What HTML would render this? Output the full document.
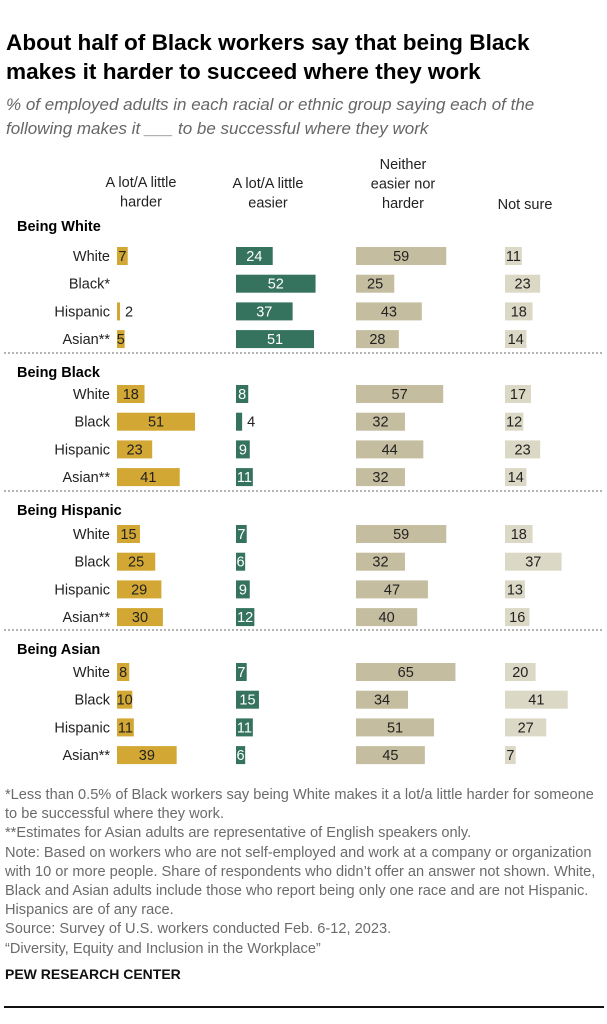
<!DOCTYPE html>
<html><head><meta charset="utf-8"><style>
body{margin:0;width:607px;height:1024px;background:#fff;font-family:"Liberation Sans",sans-serif;position:relative;overflow:hidden}
.t{position:absolute;white-space:nowrap}
</style></head><body>
<div class="t" style="left:6px;top:28px;font-size:22.6px;font-weight:bold;line-height:29px;color:#000">About half of Black workers say that being Black<br>makes it harder to succeed where they work</div>
<div class="t" style="left:6px;top:93px;font-size:17px;font-style:italic;line-height:24px;color:#666">% of employed adults in each racial or ethnic group saying each of the<br>following makes it ___ to be successful where they work</div>
<svg id="c" width="607" height="1024" style="position:absolute;left:0;top:0"></svg>
<div class="t" style="left:5px;top:786px;font-size:14.6px;line-height:19.2px;color:#6b6b6b">*Less than 0.5% of Black workers say being White makes it a lot/a little harder for someone<br>to be successful where they work.<br>**Estimates for Asian adults are representative of English speakers only.<br>Note: Based on workers who are not self-employed and work at a company or organization<br>with 10 or more people. Share of respondents who didn’t offer an answer not shown. White,<br>Black and Asian adults include those who report being only one race and are not Hispanic.<br>Hispanics are of any race.<br>Source: Survey of U.S. workers conducted Feb. 6-12, 2023.<br>“Diversity, Equity and Inclusion in the Workplace”</div>
<div class="t" style="left:5px;top:966px;font-size:14px;font-weight:bold;color:#111">PEW RESEARCH CENTER</div>
<div style="position:absolute;left:4px;top:1006px;width:600px;height:2px;background:#111"></div>
<script>
const sections=["Being White","Being Black","Being Hispanic","Being Asian"];
const groups=[["White","Black*","Hispanic","Asian**"],["White","Black","Hispanic","Asian**"],["White","Black","Hispanic","Asian**"],["White","Black","Hispanic","Asian**"]];
const harder=[[7,null,2,5],[18,51,23,41],[15,25,29,30],[8,10,11,39]];
const easier=[[24,52,37,51],[8,4,9,11],[7,6,9,12],[7,15,11,6]];
const neither=[[59,25,43,28],[57,32,44,32],[59,32,47,40],[65,34,51,45]];
const notsure=[[11,23,18,14],[17,12,23,14],[18,37,13,16],[20,41,27,7]];
const headers=[["A lot/A little","harder"],["A lot/A little","easier"],["Neither","easier nor","harder"],["Not sure"]];
const series=[harder,easier,neither,notsure];
const cols=[{x:117,c:"#d2a733",tc:"#222"},{x:236,c:"#35735f",tc:"#fff"},{x:356,c:"#c5bd9f",tc:"#222"},{x:505,c:"#dcd8c6",tc:"#222"}];
const S=1.53,NS="http://www.w3.org/2000/svg",svg=document.getElementById("c");
function el(t,a,txt){const e=document.createElementNS(NS,t);for(const k in a)e.setAttribute(k,a[k]);if(txt!=null)e.textContent=txt;svg.appendChild(e);return e;}
const hc=[141,268,403,525];
headers.forEach((h,i)=>{h.forEach((l,j)=>{const yy=(i==2?169:i==3?209:(i==0?187:188))+j*19.5;
const e=el("text",{x:hc[i],y:yy,"text-anchor":"middle","font-size":14.5,fill:"#222"},l);

});});
const secTop=[226,372,510,649];
const sec0=[256,394,534,672];
sections.forEach((s,si)=>{
const t=el("text",{x:17,y:secTop[si]+5,"font-size":14.5,"font-weight":"bold",fill:"#000"},s);


if(si>0){const ln=el("line",{x1:4,x2:604,y1:secTop[si]-19,y2:secTop[si]-19,stroke:"#888","stroke-dasharray":"2,2","stroke-width":1.2});

}
groups[si].forEach((g,gi)=>{const cy=sec0[si]+gi*27.7;
const lb=el("text",{x:110,y:cy+5,"text-anchor":"end","font-size":14.5,fill:"#222"},g);


series.forEach((ser,ci)=>{const v=ser[si][gi];if(v==null)return;const col=cols[ci];const w=v*S;
const r=el("rect",{x:col.x,y:cy-9,width:w,height:18,fill:col.c});


const out=v<5;const tx=out?col.x+w+5:col.x+w/2;
const vt=el("text",{x:tx,y:cy+5,"text-anchor":out?"start":"middle","font-size":14.5,fill:out?"#222":col.tc},v);

});});});
</script>
</body></html>
